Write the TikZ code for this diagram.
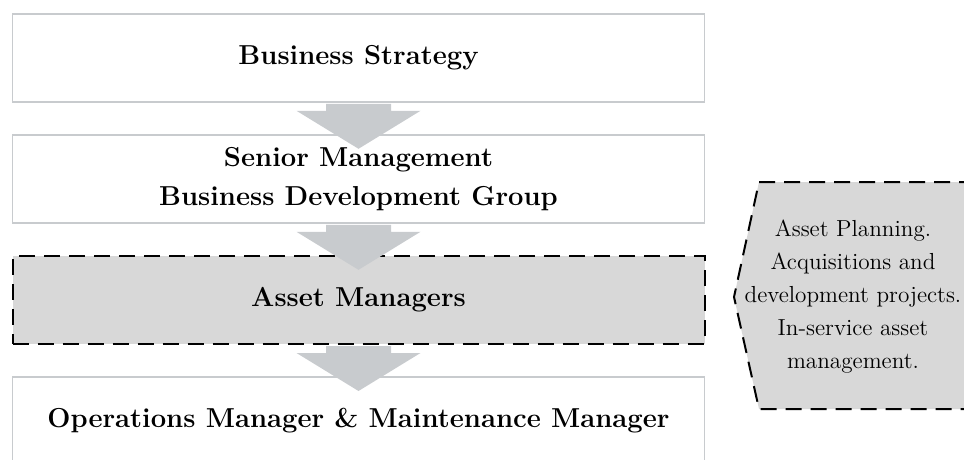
\documentclass[tikz,border=0pt]{standalone}
\usetikzlibrary{calc}
\definecolor{boxline}{RGB}{200,203,206}
\definecolor{arrowgray}{RGB}{200,203,206}
\definecolor{dashgray}{RGB}{216,216,216}
\newcommand{\blockarrow}[1]{%
  \fill[arrowgray] ($(#1.south)+(-32.5,1)$) -- ($(#1.south)+(32.5,1)$) -- ($(#1.south)+(32.5,8)$) -- ($(#1.south)+(62,8)$) -- ($(#1.south)+(0,46)$) -- ($(#1.south)+(-62,8)$) -- ($(#1.south)+(-32.5,8)$) -- cycle;}
\begin{document}
\begin{tikzpicture}[x=0.5pt,y=-0.5pt,
  box/.style={draw=boxline, line width=0.8pt, fill=white, minimum width=346pt, minimum height=44pt, inner sep=0pt, align=center, font=\fontsize{13.7}{19.5}\selectfont\bfseries},
  dbox/.style={box, draw=black, fill=dashgray, dash pattern=on 8pt off 4.5pt, line width=1pt},
  dashline/.style={draw=black, fill=dashgray, dash pattern=on 8pt off 4.5pt, line width=1pt},
  notefont/.style={align=center, inner sep=0pt, font=\fontsize{11.6}{16.5}\selectfont}]
\useasboundingbox (0,0) rectangle (964,460);
\clip (0,0) rectangle (964,460);
\node[box] (b1) at (358.5,58) {Business Strategy};
\node[box] (b2) at (358.5,179) {Senior Management\\Business Development Group};
\node[dbox] (b3) at (358.5,300) {Asset Managers};
\node[box] (b4) at (358.5,421) {Operations Manager \& Maintenance Manager};
\blockarrow{b1}
\blockarrow{b2}
\blockarrow{b3}
\coordinate (ntr) at (975,182);
\coordinate (ntl) at (759,182);
\coordinate (nl) at (734,297);
\coordinate (nbl) at (759,409);
\coordinate (nbr) at (975,409);
\draw[dashline] (ntr) -- (ntl) -- (nl) -- (nbl) -- (nbr);
\node[notefont] (note) at (853,297) {Asset Planning.\\Acquisitions and\\development projects.\\In-service asset\\management.};
\end{tikzpicture}
\end{document}
